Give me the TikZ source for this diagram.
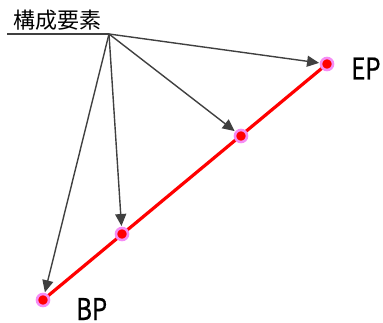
\documentclass[tikz,border=0pt]{standalone}
\usepackage{fontspec}
\setmainfont{Noto Sans CJK JP}
\newfontfamily\lblfont[FakeBold=0.6]{Noto Sans CJK JP}
\usetikzlibrary{arrows.meta}
\definecolor{arrowgray}{HTML}{404040}
\definecolor{ringpink}{HTML}{F58CF5}
\tikzset{
  pt/.style={circle, fill=red, draw=ringpink, line width=2.6pt, inner sep=0pt, minimum size=12pt},
  ptr/.style={draw=arrowgray, line width=1.4pt, -{Triangle[length=12pt,width=11pt]}, shorten >=8pt},
  lbl/.style={font=\lblfont\fontsize{30}{30}\selectfont, inner sep=0pt, text depth=0pt, anchor=base west},
}
\begin{document}
\begin{tikzpicture}[x=1pt,y=-1pt]
\useasboundingbox (0,0) rectangle (383,323);
\node[font=\fontsize{22}{22}\selectfont, inner sep=0pt] (title) at (57,20) {構成要素};
\coordinate (o) at (109,34);
\coordinate (u) at (7,34);
\draw[arrowgray, line width=1.4pt] (u) -- (o);
\draw[red, line width=3.2pt] (43,300) coordinate (bpc) -- (327,64) coordinate (epc);
\node[pt] (bp) at (bpc) {};
\node[pt] (m1) at (122,234) {};
\node[pt] (m2) at (241,136) {};
\node[pt] (ep) at (epc) {};
\draw[ptr] (o) -- (ep.center);
\draw[ptr] (o) -- (m2.center);
\draw[ptr] (o) -- (m1.center);
\draw[ptr] (o) -- (bp.center);
\node[lbl] (eplbl) at (351,79.5) {\scalebox{0.8}[1]{EP}};
\node[lbl] (bplbl) at (76,320) {\scalebox{0.8}[1]{BP}};
\end{tikzpicture}
\end{document}
